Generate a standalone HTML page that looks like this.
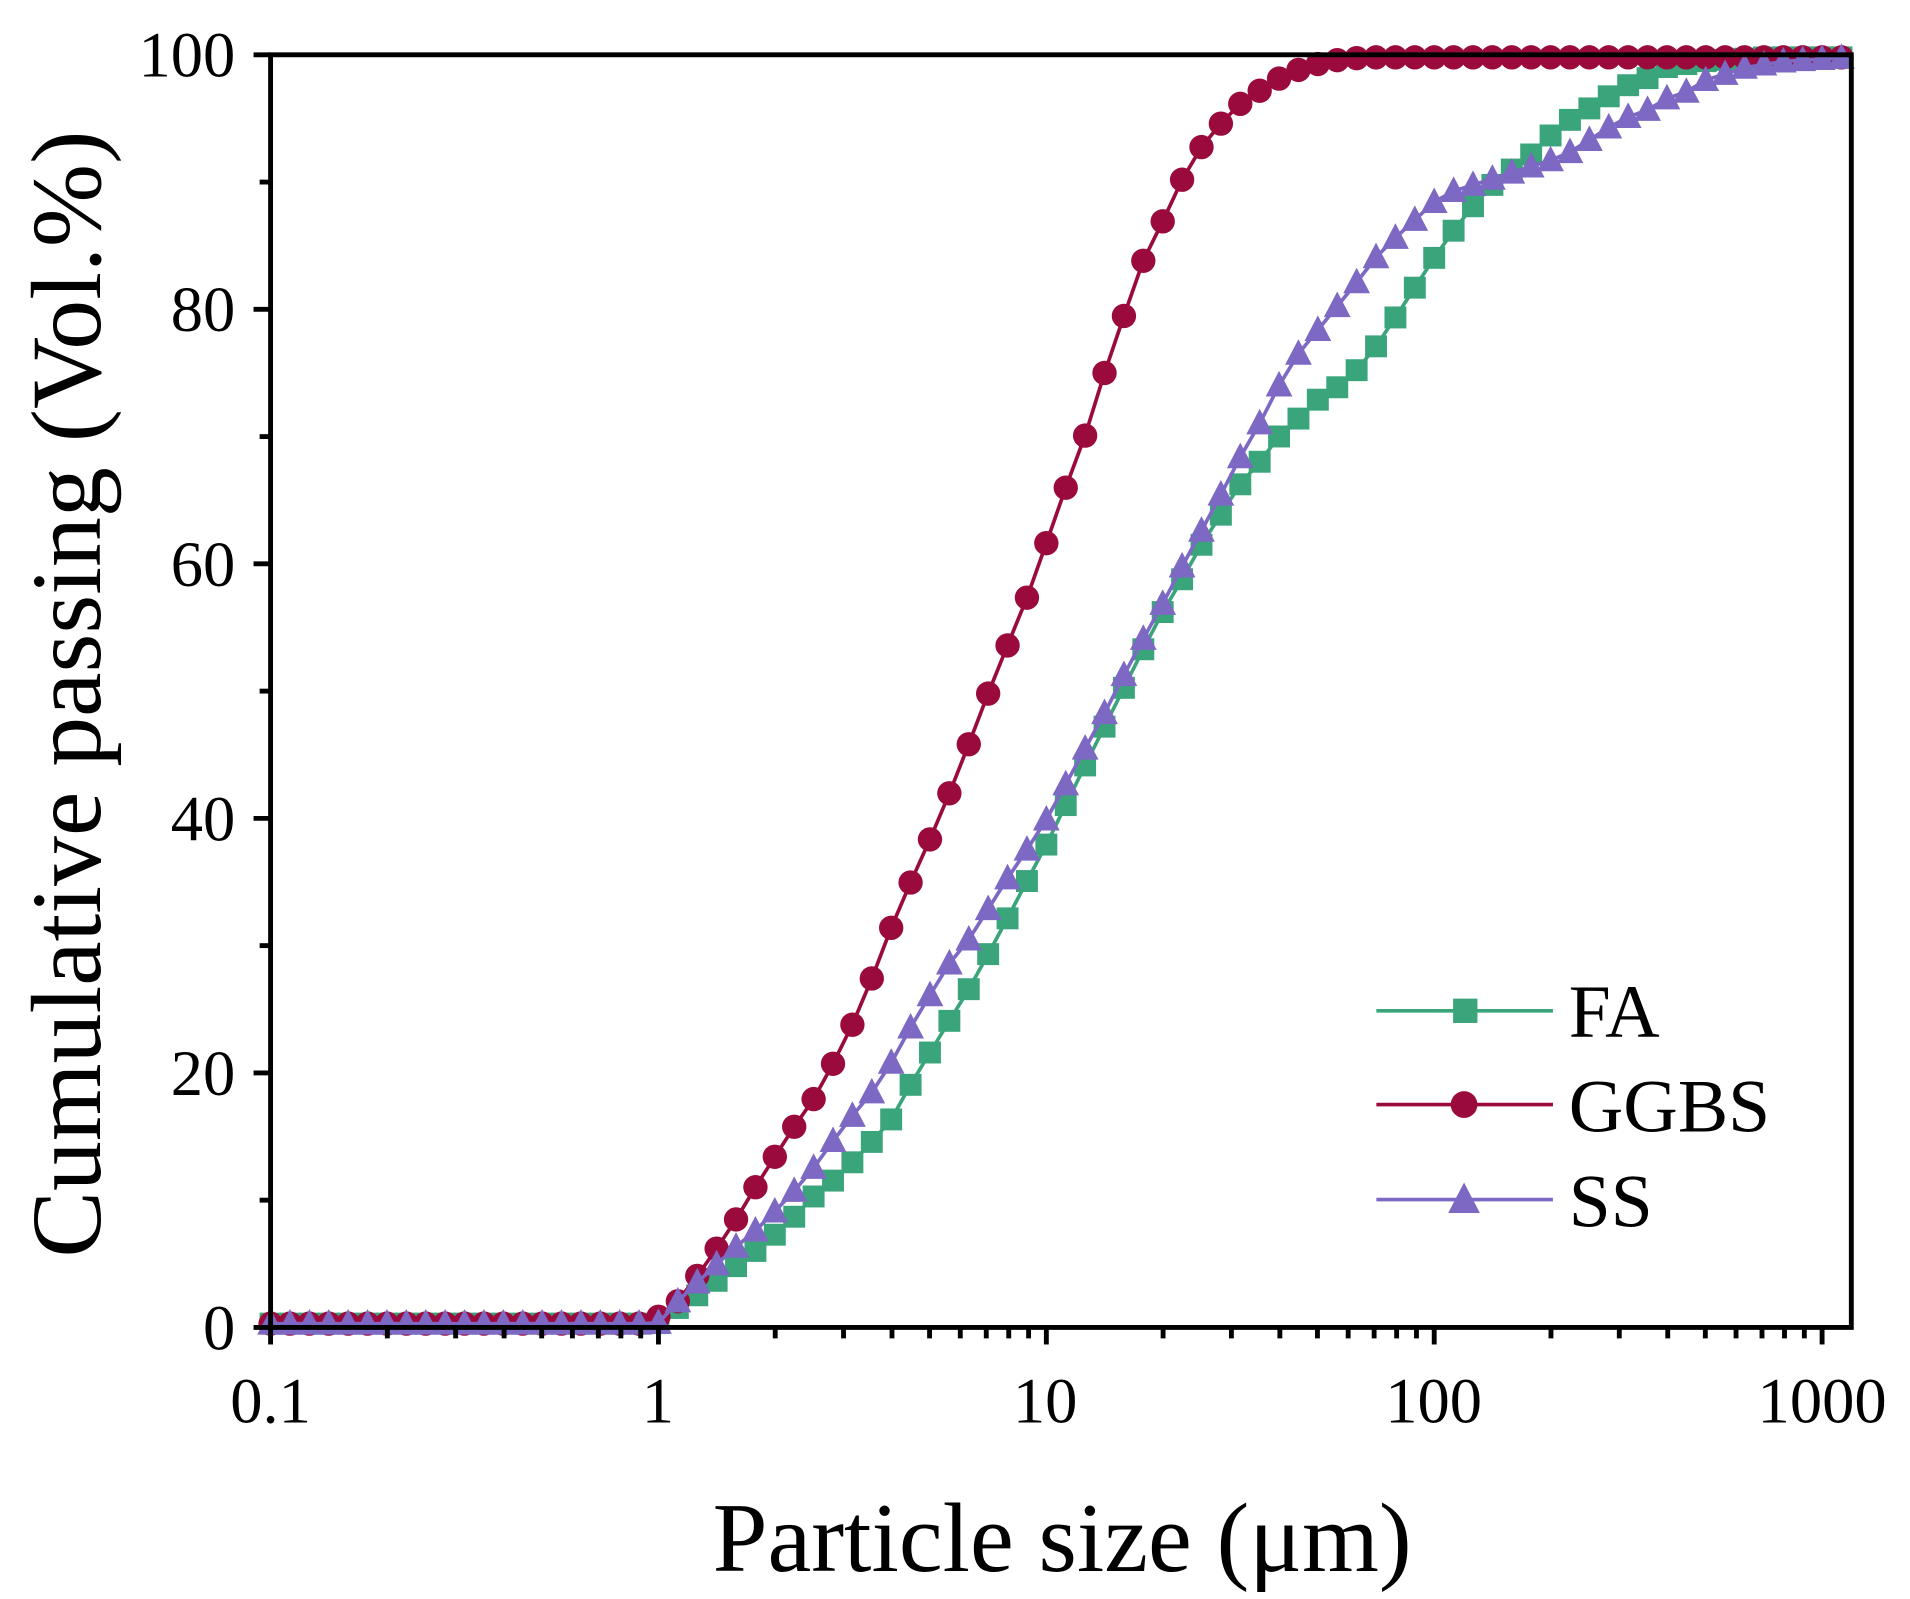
<!DOCTYPE html>
<html><head><meta charset="utf-8"><style>
html,body{margin:0;padding:0;background:#fff;}
svg{display:block;}
text{font-family:"Liberation Serif",serif;fill:#000;}
</style></head><body>
<svg id="c" width="1910" height="1599" viewBox="0 0 1568 1313" xmlns="http://www.w3.org/2000/svg">
<rect width="1568" height="1313" fill="#fff"/>
<g id="series"></g>
<rect x="222" y="45" width="1298" height="1045" fill="none" stroke="#000" stroke-width="4"/>
<g id="ticks" stroke="#000" stroke-width="4"></g>
<g font-size="53">
<text x="193" y="1108" text-anchor="end">0</text>
<text x="193" y="899" text-anchor="end">20</text>
<text x="193" y="690" text-anchor="end">40</text>
<text x="193" y="481" text-anchor="end">60</text>
<text x="193" y="272" text-anchor="end">80</text>
<text x="193" y="63" text-anchor="end">100</text>
<text x="222" y="1168" text-anchor="middle">0.1</text>
<text x="540" y="1168" text-anchor="middle">1</text>
<text x="858" y="1168" text-anchor="middle">10</text>
<text x="1177" y="1168" text-anchor="middle">100</text>
<text x="1496" y="1168" text-anchor="middle">1000</text>
</g>
<text x="872" y="1290" font-size="81" text-anchor="middle">Particle size (μm)</text>
<text transform="translate(82,570) rotate(-90)" font-size="82" text-anchor="middle">Cumulative passing (Vol.%)</text>
<g stroke-width="3">
<line x1="1130" y1="830" x2="1275" y2="830" stroke="#3aa57a"/>
<rect x="1193" y="820" width="20" height="20" fill="#3aa57a"/>
<line x1="1130" y1="907" x2="1275" y2="907" stroke="#9b0a3c"/>
<circle cx="1202" cy="907" r="11" fill="#9b0a3c"/>
<line x1="1130" y1="985" x2="1275" y2="985" stroke="#7d68c4"/>
<polygon points="1202,971 1189,996 1215,996" fill="#7d68c4"/>
</g>
<g font-size="62">
<text x="1288" y="851">FA</text>
<text x="1288" y="929">GGBS</text>
<text x="1288" y="1007">SS</text>
</g>
</svg>
<script>
var NS="http://www.w3.org/2000/svg";
function el(t,a,p){var e=document.createElementNS(NS,t);for(var k in a)e.setAttribute(k,a[k]);p.appendChild(e);return e;}
var tk=document.getElementById('ticks');
var L=222,D=318.5,B=1090,T=45;
for(var d=0;d<4;d++){for(var m=1;m<10;m++){var x=L+D*(d+Math.log10(m));if(x>1520)break;el('line',{x1:x,y1:B,x2:x,y2:B+(m==1?14:9)},tk);}}
el('line',{x1:L+4*D,y1:B,x2:L+4*D,y2:B+14},tk);
for(var v=0;v<=100;v+=10){var y=B-v*10.45;el('line',{x1:L,y1:y,x2:L-(v%20==0?14:9),y2:y},tk);}
var G=[[222,0.3],[530,0.3],[540,0.8],[556,2],[572,4],[598,7.5],[620,11],[650,15.5],[672,18.5],[688,21.5],[706,25],[722,29],[738,33],[755,36.5],[771,40],[788,44],[804,48],[820,52],[838,56],[855,60.5],[871,65],[889,69.5],[905,74.5],[921,79],[937,83.5],[955,87],[972,90.5],[988,93],[1006,95],[1022,96.5],[1040,97.5],[1056,98.5],[1072,99],[1090,99.5],[1120,99.8],[1520,99.8]];
var F=[[222,0.3],[530,0.3],[540,0.3],[556,1.5],[572,2.5],[600,4.5],[620,6],[645,8],[670,10.5],[690,12],[715,14.5],[733,16.5],[750,19.5],[766,22],[782,24.5],[798,27],[815,30],[832,33],[848,36],[865,39],[882,42.5],[898,45.5],[916,49],[932,52],[950,55.5],[966,58],[983,61],[1000,63.5],[1016,66],[1034,68],[1050,70],[1067,71.5],[1083,73],[1100,74],[1117,75.5],[1133,77.5],[1150,80],[1167,82.5],[1184,85],[1200,87],[1217,89],[1233,90.5],[1250,91.5],[1266,93],[1282,94.5],[1300,95.5],[1317,96.5],[1333,97.5],[1350,98],[1366,99],[1400,99.5],[1450,99.8],[1520,99.8]];
var S=[[222,0.3],[530,0.3],[540,0.3],[556,2],[572,3.5],[600,6],[625,8],[650,10.5],[672,13],[690,15.5],[716,18.5],[733,21],[750,24],[766,26.5],[782,29],[800,31],[815,33.5],[832,36],[850,38.5],[866,41],[882,44],[900,47],[916,50],[932,53],[950,56],[966,59],[983,62],[1000,65],[1016,68],[1034,71],[1050,74],[1066,76.5],[1083,78.5],[1100,80.5],[1117,82.5],[1133,84.5],[1150,86],[1167,87.5],[1184,89],[1200,89.5],[1217,90],[1233,90.5],[1250,91],[1266,91.5],[1283,92],[1300,93],[1316,94],[1333,95],[1350,95.5],[1366,96.5],[1383,97],[1400,98],[1433,99],[1466,99.5],[1520,99.8]];
function interp(P,x){for(var i=0;i<P.length-1;i++){if(x<=P[i+1][0]){var t=(x-P[i][0])/(P[i+1][0]-P[i][0]);return P[i][1]+t*(P[i+1][1]-P[i][1]);}}return P[P.length-1][1];}
var g=document.getElementById('series');
function draw(P,col,type){var pts=[];var xs=[];for(var x=L;x<=1518;x+=D*0.05){xs.push(x);}
xs.forEach(function(x){pts.push(x.toFixed(1)+','+(B-interp(P,x)*10.45).toFixed(1));});
el('polyline',{points:pts.join(' '),fill:'none',stroke:col,'stroke-width':3},g);
xs.forEach(function(x){var y=B-interp(P,x)*10.45;
if(type=='s')el('rect',{x:x-9,y:y-9,width:18,height:18,fill:col},g);
else if(type=='c')el('circle',{cx:x,cy:y,r:10,fill:col},g);
else el('polygon',{points:x+','+(y-12)+' '+(x-11)+','+(y+9)+' '+(x+11)+','+(y+9),fill:col},g);});}
draw(F,'#3aa57a','s');draw(G,'#9b0a3c','c');draw(S,'#7d68c4','t');
</script>
</body></html>
